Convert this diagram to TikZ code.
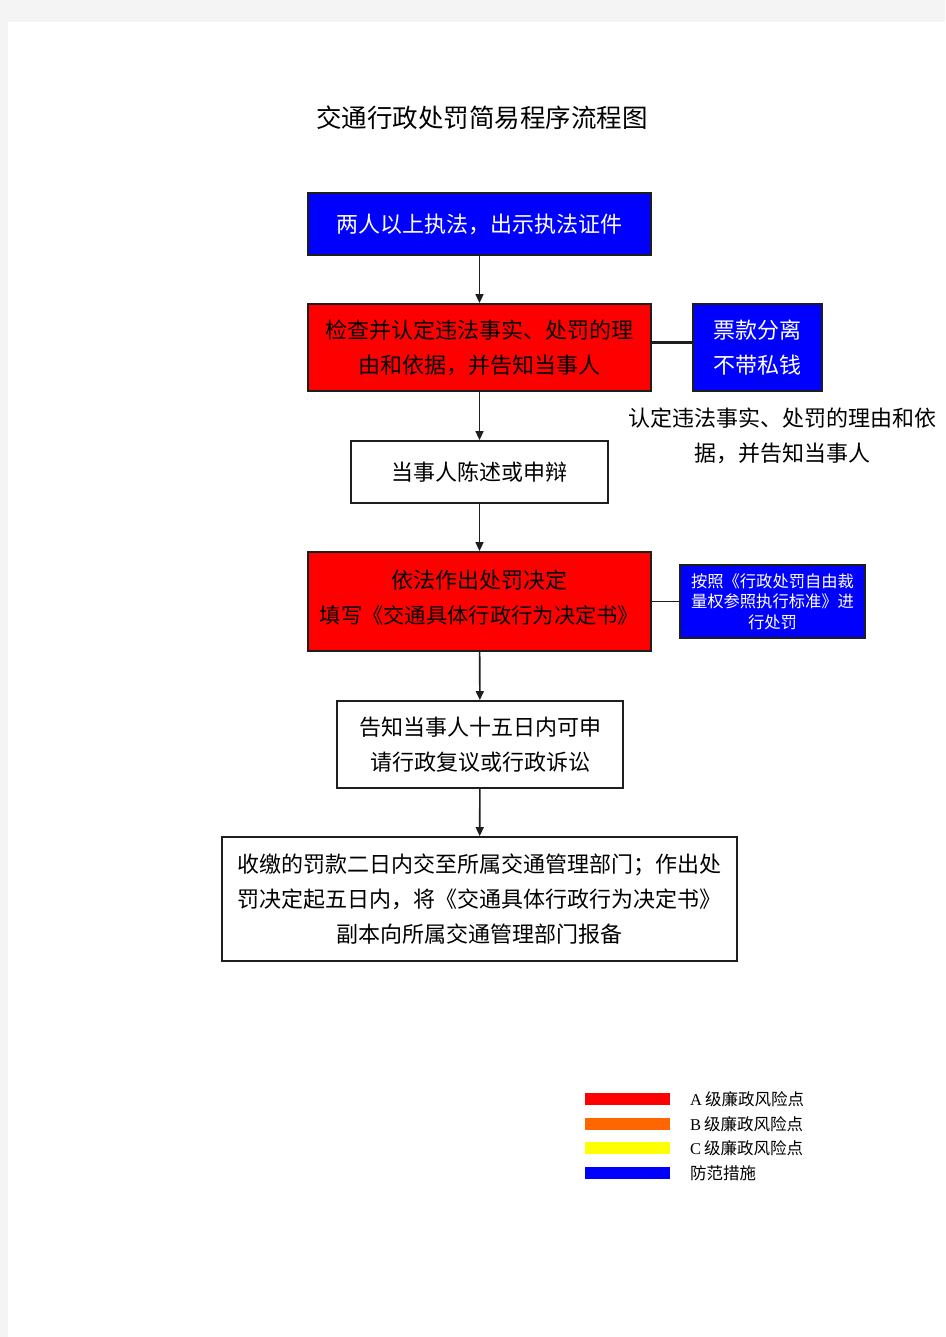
\documentclass[tikz,border=0pt]{standalone}
\usepackage{fontspec}
\setmainfont{Liberation Serif}
\newfontfamily\cjk{Noto Sans CJK SC}
\usetikzlibrary{arrows.meta}
\definecolor{pagegray}{HTML}{F4F4F4}
\definecolor{pureblue}{HTML}{0000FF}
\definecolor{purered}{HTML}{FF0000}
\definecolor{legorange}{HTML}{FF6600}
\definecolor{legyellow}{HTML}{FFFF00}
\definecolor{edgegray}{HTML}{1E1E1E}
\tikzset{
  x=1pt, y=-1pt,
  flowbox/.style={draw=edgegray, line width=1.8pt, inner sep=0pt, align=center,
    font=\cjk\fontsize{22}{35}\selectfont},
  bluebox/.style={flowbox, fill=pureblue, text=white},
  redbox/.style={flowbox, fill=purered, text=black},
  whitebox/.style={flowbox, fill=white, text=black},
  plaintext/.style={inner sep=0pt, align=center, font=\cjk\fontsize{22}{35}\selectfont},
  flowarrow/.style={draw=edgegray, line width=1.6pt, -{Triangle[length=9pt,width=8pt]}},
  sideline/.style={draw=edgegray, line width=2.4pt},
  legbar/.style={minimum width=85pt, minimum height=12pt, inner sep=0pt},
  legtext/.style={anchor=west, inner sep=0pt, font=\fontsize{16.5}{18}\selectfont},
}
\begin{document}
\begin{tikzpicture}
\useasboundingbox (0,0) rectangle (945,1337);
\fill[pagegray] (0,0) rectangle (945,1337);
\fill[white] (8,22) rectangle (945,1337);

\node[font=\cjk\fontsize{25.5}{28}\selectfont, inner sep=0pt] (title) at (482,118) {交通行政处罚简易程序流程图};

\node[bluebox, minimum width=343pt, minimum height=62pt] (b1) at (479.5,224) {两人以上执法，出示执法证件};
\node[redbox, minimum width=343pt, minimum height=87pt] (b2) at (479.5,347.5) {检查并认定违法事实、处罚的理\\由和依据，并告知当事人};
\node[bluebox, minimum width=129pt, minimum height=87pt] (b3) at (757.5,347.5) {票款分离\\不带私钱};
\node[plaintext] (note) at (782,436) {认定违法事实、处罚的理由和依\\据，并告知当事人};
\node[whitebox, minimum width=257pt, minimum height=62pt] (b4) at (479.5,472) {当事人陈述或申辩};
\node[redbox, minimum width=343pt, minimum height=99pt] (b5) at (479.5,601.5) {};
\node[plaintext] (b5text) at (479.5,597.5) {依法作出处罚决定\\{\fontsize{21.3}{35}\selectfont 填写《交通具体行政行为决定书》}};
\node[bluebox, minimum width=185pt, minimum height=73pt, font=\cjk\fontsize{16.3}{20.5}\selectfont] (b6) at (772.5,601.5) {按照《行政处罚自由裁\\量权参照执行标准》进\\行处罚};
\node[whitebox, minimum width=286pt, minimum height=87pt] (b7) at (480,744.5) {告知当事人十五日内可申\\请行政复议或行政诉讼};
\node[whitebox, minimum width=515pt, minimum height=124pt] (b8) at (479.5,899) {收缴的罚款二日内交至所属交通管理部门；作出处\\罚决定起五日内，将《交通具体行政行为决定书》\\副本向所属交通管理部门报备};

\draw[flowarrow] (b1) -- (b2);
\draw[flowarrow] (b2) -- (b4);
\draw[flowarrow] (b4) -- (b5);
\draw[flowarrow] (b5) -- (b7);
\draw[flowarrow] (b7) -- (b8);
\draw[sideline] ([yshift=5pt]b2.east) -- ([yshift=5pt]b3.west);
\draw[sideline, line width=1.6pt] (b5) -- (b6);

\node[legbar, fill=purered] (l1) at (627.5,1099) {};
\node[legbar, fill=legorange] (l2) at (627.5,1124) {};
\node[legbar, fill=legyellow] (l3) at (627.5,1148) {};
\node[legbar, fill=pureblue] (l4) at (627.5,1173) {};
\node[legtext] (t1) at (690,1099) {A\hspace{3pt}{\cjk 级廉政风险点}};
\node[legtext] (t2) at (690,1124) {B\hspace{3pt}{\cjk 级廉政风险点}};
\node[legtext] (t3) at (690,1148) {C\hspace{3pt}{\cjk 级廉政风险点}};
\node[legtext] (t4) at (690,1173) {{\cjk 防范措施}};
\end{tikzpicture}
\end{document}
